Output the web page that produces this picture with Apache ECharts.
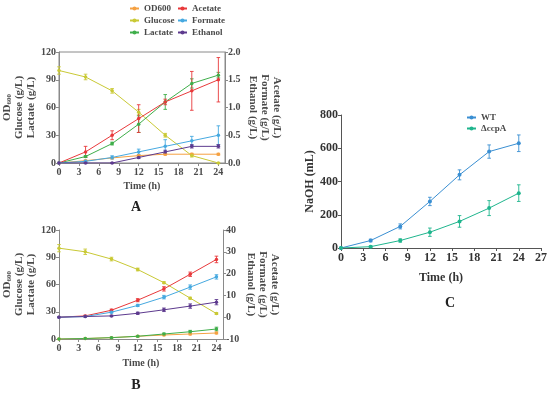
<!DOCTYPE html>
<html>
<head>
<meta charset="utf-8">
<script src="https://cdn.jsdelivr.net/npm/echarts@6/dist/echarts.min.js"></script>
<style>html,body{margin:0;padding:0;background:#fff;}#c{width:550px;height:394px;}</style>
</head>
<body>
<div id="c"></div>
<script>
// ---------- data ----------
const time = [0, 4, 8, 12, 16, 20, 24];
const xTicks = [0, 3, 6, 9, 12, 15, 18, 21, 24];
const xTicksC = [0, 3, 6, 9, 12, 15, 18, 21, 24, 27];

// Panel A
const od600A    = [0, 2.5, 5.5, 8, 9.5, 9.5, 9.5];
const od600AErr = [0, 0.5, 0.6, 0.8, 1, 1, 1];
const glucoseA    = [100, 93, 78, 55, 30, 8, 0];
const glucoseAErr = [4, 3, 2.5, 3, 2, 1.5, 0.5];
const lactateA    = [0, 7, 21, 42, 66, 86, 95];
const lactateAErr = [0, 1, 1.5, 9, 8, 5, 3];
const acetateA    = [0, 0.2, 0.5, 0.8, 1.1, 1.3, 1.5];
const acetateAErr = [0, 0.1, 0.08, 0.25, 0.05, 0.35, 0.4];
const formateA    = [0, 0.03, 0.1, 0.2, 0.3, 0.4, 0.5];
const formateAErr = [0, 0.02, 0.03, 0.05, 0.12, 0.08, 0.17];
const ethanolA    = [0, 0, 0, 0.1, 0.2, 0.3, 0.3];
const ethanolAErr = [0, 0, 0, 0.02, 0.03, 0.03, 0.03];

// Panel B
const od600B    = [0, 0.5, 1.5, 3, 4.4, 5.5, 6.6];
const od600BErr = [0, 0.3, 0.3, 0.5, 0.8, 1, 1];
const glucoseB    = [100, 96, 88, 76.5, 62, 45, 28];
const glucoseBErr = [4, 3, 2, 1.5, 1, 1, 1];
const lactateB    = [0, 0.5, 1.5, 3, 5.5, 8, 11];
const lactateBErr = [0, 0.3, 0.5, 0.8, 1, 1.5, 2];
const acetateB    = [0, 0.6, 3.2, 7.8, 13, 19.7, 26.5];
const acetateBErr = [0, 0.3, 0.5, 0.7, 1, 1, 1.5];
const formateB    = [0, 0.3, 2.3, 5.4, 9.2, 13.8, 18.5];
const formateBErr = [0, 0.2, 0.4, 0.5, 0.8, 1, 1];
const ethanolB    = [0, 0.3, 0.6, 1.8, 3.4, 5.1, 6.9];
const ethanolBErr = [0, 0.2, 0.3, 0.5, 0.8, 1, 1.2];

// Panel C
const wtC      = [0, 45, 130, 280, 440, 580, 630];
const wtCErr   = [0, 8, 15, 25, 30, 40, 50];
const ccpAC    = [0, 8, 45, 95, 160, 240, 330];
const ccpACErr = [0, 5, 10, 25, 35, 45, 50];

// ---------- styles ----------
const FONT = 'Liberation Serif';
const TXT = '#4a4a4a';
const AX = '#8a8a8a';
const COL = {
  OD600: '#f5a142', Glucose: '#c9c935', Lactate: '#3fae4a',
  Acetate: '#e8393b', Formate: '#46a9e0', Ethanol: '#5d3a8e',
  WT: '#3a8fd2', CCPA: '#1fb58d'
};

function pairs(xs, ys) { return xs.map((x, i) => [x, ys[i]]); }
function errData(xs, ys, es) { return xs.map((x, i) => [x, ys[i] - es[i], ys[i] + es[i]]); }

function errRender(params, api) {
  const x = api.value(0), lo = api.value(1), hi = api.value(2);
  const p1 = api.coord([x, hi]);
  const p2 = api.coord([x, lo]);
  const w = 1.8;
  const st = { stroke: api.visual('color'), lineWidth: 0.9 };
  return {
    type: 'group',
    children: [
      { type: 'line', shape: { x1: p1[0], y1: p1[1], x2: p2[0], y2: p2[1] }, style: st },
      { type: 'line', shape: { x1: p1[0] - w, y1: p1[1], x2: p1[0] + w, y2: p1[1] }, style: st },
      { type: 'line', shape: { x1: p2[0] - w, y1: p2[1], x2: p2[0] + w, y2: p2[1] }, style: st }
    ]
  };
}

const series = [];
function addLine(name, color, xi, yi, ys, es, size) {
  series.push({
    name: name, type: 'line', xAxisIndex: xi, yAxisIndex: yi,
    data: pairs(time, ys), symbol: 'circle', symbolSize: size || 3.5,
    lineStyle: { width: 1, color: color }, itemStyle: { color: color },
    z: 3, animation: false
  });
  series.push({
    type: 'custom', xAxisIndex: xi, yAxisIndex: yi,
    data: errData(time, ys, es), renderItem: errRender,
    itemStyle: { color: color }, encode: { x: 0, y: [1, 2] },
    z: 2, animation: false, silent: true
  });
}

// Panel A (x 0; left y 0, right y 1)
addLine('OD600', COL.OD600, 0, 0, od600A, od600AErr);
addLine('Glucose', COL.Glucose, 0, 0, glucoseA, glucoseAErr);
addLine('Lactate', COL.Lactate, 0, 0, lactateA, lactateAErr);
addLine('Acetate', COL.Acetate, 0, 1, acetateA, acetateAErr);
addLine('Formate', COL.Formate, 0, 1, formateA, formateAErr);
addLine('Ethanol', COL.Ethanol, 0, 1, ethanolA, ethanolAErr);
// Panel B (x 1; left y 2, right y 3)
addLine('OD600', COL.OD600, 1, 2, od600B, od600BErr);
addLine('Glucose', COL.Glucose, 1, 2, glucoseB, glucoseBErr);
addLine('Lactate', COL.Lactate, 1, 2, lactateB, lactateBErr);
addLine('Acetate', COL.Acetate, 1, 3, acetateB, acetateBErr);
addLine('Formate', COL.Formate, 1, 3, formateB, formateBErr);
addLine('Ethanol', COL.Ethanol, 1, 3, ethanolB, ethanolBErr);
// Panel C (x 2; y 4)
addLine('WT', COL.WT, 2, 4, wtC, wtCErr, 4);
addLine('ΔccpA', COL.CCPA, 2, 4, ccpAC, ccpACErr, 4);

function xAxisCfg(gi, max, ticks, fs, nameFs, gap, color) {
  return {
    gridIndex: gi, type: 'value', min: 0, max: max,
    name: 'Time (h)', nameLocation: 'middle', nameGap: gap,
    nameTextStyle: { fontFamily: FONT, fontWeight: 'bold', fontSize: nameFs, color: color },
    axisLine: { lineStyle: { color: color === TXT ? AX : '#555', width: 1 } },
    axisTick: { show: true, length: 3, customValues: ticks, lineStyle: { color: color === TXT ? AX : '#555' } },
    axisLabel: { customValues: ticks, fontFamily: FONT, fontWeight: 'bold', fontSize: fs, color: color, margin: 4 },
    splitLine: { show: false }
  };
}

function yAxisCfg(gi, pos, min, max, interval, name, gap, rotate, fmt, fs, nameFs, color, rich) {
  const a = {
    gridIndex: gi, type: 'value', position: pos, min: min, max: max, interval: interval,
    name: name, nameLocation: 'middle', nameGap: gap, nameRotate: rotate,
    nameTextStyle: { fontFamily: FONT, fontWeight: 'bold', fontSize: nameFs, color: color, lineHeight: nameFs + 1, align: 'center' },
    axisLine: { show: true, lineStyle: { color: color === TXT ? AX : '#555', width: 1 } },
    axisTick: { show: true, length: 3, lineStyle: { color: color === TXT ? AX : '#555' } },
    axisLabel: { fontFamily: FONT, fontWeight: 'bold', fontSize: fs, color: color, margin: 3, formatter: fmt },
    splitLine: { show: false }
  };
  if (rich) a.nameTextStyle.rich = rich;
  return a;
}

const richOD = {
  a: { fontFamily: FONT, fontWeight: 'bold', fontSize: 11, color: TXT },
  s: { fontFamily: FONT, fontWeight: 'bold', fontSize: 7, color: TXT, verticalAlign: 'bottom', padding: [4, 0, 0, 0] }
};
const leftName = '{a|OD}{s|600}\nGlucose (g/L)\nLactate (g/L)';
const rightName = 'Acetate (g/L)\nFormate (g/L)\nEthanol (g/L)';

const legendText = { fontFamily: FONT, fontWeight: 'bold', fontSize: 9, color: TXT };

const option = {
  backgroundColor: '#fff',
  animation: false,
  grid: [
    { left: 59, top: 52, width: 166, height: 111, show: true, borderColor: AX, borderWidth: 1, backgroundColor: 'transparent' },
    { left: 59, top: 230, width: 164, height: 109 },
    { left: 341, top: 115, width: 200, height: 133 }
  ],
  legend: [
    { orient: 'vertical', left: 124, top: -1, data: ['OD600', 'Glucose', 'Lactate'], itemWidth: 9, itemHeight: 5, itemGap: 3, textStyle: legendText },
    { orient: 'vertical', left: 172, top: -1, data: ['Acetate', 'Formate', 'Ethanol'], itemWidth: 9, itemHeight: 5, itemGap: 3, textStyle: legendText },
    { orient: 'vertical', left: 461, top: 108, data: ['WT', 'ΔccpA'], itemWidth: 9, itemHeight: 5, itemGap: 2, textStyle: legendText }
  ],
  xAxis: [
    xAxisCfg(0, 25, xTicks, 10, 10, 18, TXT),
    xAxisCfg(1, 25, xTicks, 10, 10, 19, TXT),
    xAxisCfg(2, 27, xTicksC, 12, 12, 24, '#333')
  ],
  yAxis: [
    yAxisCfg(0, 'left', 0, 120, 30, leftName, 20, 90, null, 10, 11, TXT, richOD),
    yAxisCfg(0, 'right', 0, 2, 0.5, rightName, 22, -90, v => v.toFixed(1), 10, 11, TXT),
    yAxisCfg(1, 'left', 0, 120, 30, leftName, 20, 90, null, 10, 11, TXT, richOD),
    yAxisCfg(1, 'right', -10, 40, 10, rightName, 22, -90, null, 10, 11, TXT),
    yAxisCfg(2, 'left', 0, 800, 200, 'NaOH (mL)', 25, 90, null, 12, 12, '#333')
  ],
  series: series,
  graphic: [
    { type: 'text', style: { text: 'A', x: 136, y: 207, textAlign: 'center', textVerticalAlign: 'middle', font: 'bold 14px "Liberation Serif"', fill: '#222' } },
    { type: 'text', style: { text: 'B', x: 136, y: 385, textAlign: 'center', textVerticalAlign: 'middle', font: 'bold 14px "Liberation Serif"', fill: '#222' } },
    { type: 'text', style: { text: 'C', x: 450, y: 303, textAlign: 'center', textVerticalAlign: 'middle', font: 'bold 14px "Liberation Serif"', fill: '#222' } }
  ]
};

const chart = echarts.init(document.getElementById('c'), null, { renderer: 'canvas' });
chart.setOption(option);
</script>
</body>
</html>
